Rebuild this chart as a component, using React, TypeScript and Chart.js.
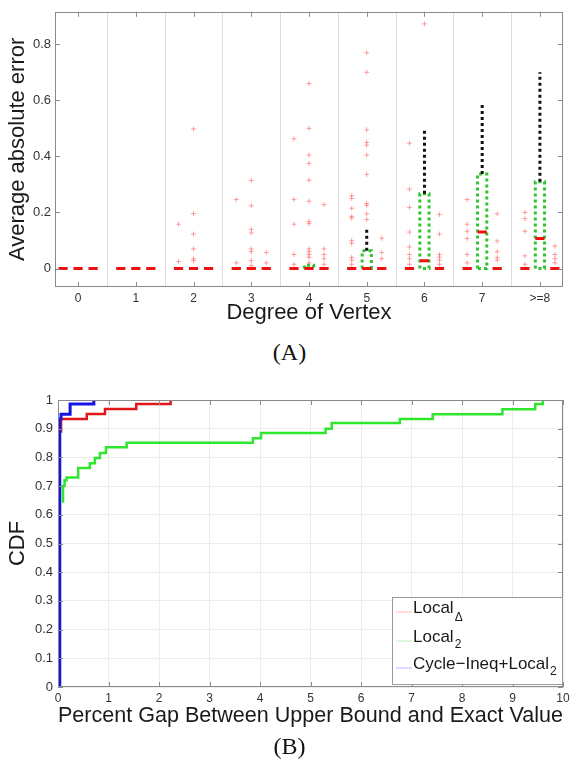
import React, { useEffect, useRef } from 'react';
import { Chart, registerables } from 'chart.js';
Chart.register(...registerables);

// ---------- Chart (A) data ----------
const categories = ['0', '1', '2', '3', '4', '5', '6', '7', '>=8'];
const subOffsets = [-0.26, 0, 0.26];
const midBoxQ3 = [0, 0, 0, 0, 0.012, 0.063, 0.267, 0.337, 0.31];
const midMedian = [0, 0, 0, 0, 0, 0, 0.028, 0.13, 0.107];
const midWhiskerTop = [0, 0, 0, 0, 0.012, 0.144, 0.495, 0.59, 0.7];
const leftOutliers: number[][] = [
  [], [], [0.158, 0.025], [0.246, 0.02], [0.463, 0.246, 0.158, 0.05, 0.015],
  [0.26, 0.25, 0.215, 0.186, 0.18, 0.1, 0.09, 0.04, 0.03, 0.015],
  [0.447, 0.283, 0.218, 0.13, 0.077, 0.05, 0.035, 0.015],
  [0.246, 0.158, 0.133, 0.107, 0.05, 0.02],
  [0.2, 0.178, 0.133, 0.045, 0.015],
];
const midOutliers: number[][] = [
  [], [], [0.498, 0.196, 0.123, 0.07, 0.035, 0.028],
  [0.314, 0.224, 0.14, 0.127, 0.07, 0.06, 0.028, 0.01],
  [0.66, 0.5, 0.405, 0.375, 0.315, 0.24, 0.168, 0.16, 0.07, 0.06, 0.05, 0.04, 0.02],
  [0.77, 0.7, 0.495, 0.45, 0.44, 0.405, 0.336, 0.232, 0.225, 0.195, 0.175],
  [0.873], [], [],
];
const rightOutliers: number[][] = [
  [], [], [], [0.057, 0.02], [0.228, 0.07, 0.05, 0.035, 0.015],
  [0.108, 0.057, 0.035],
  [0.193, 0.123, 0.05, 0.04, 0.03, 0.015],
  [0.195, 0.098, 0.06, 0.04, 0.03],
  [0.08, 0.05, 0.035, 0.02],
];
const aYTicks = [0, 0.2, 0.4, 0.6, 0.8];

// ---------- Chart (B) data ----------
const deltaGap = [0.05, 0.06, 0.57, 0.93, 1.55, 2.23];
const deltaCdf = [0.89, 0.934, 0.951, 0.969, 0.986, 1.0];
const local2Gap = [0.08, 0.1, 0.13, 0.17, 0.4, 0.63, 0.73, 0.83, 0.95, 1.36, 3.86, 4.02, 5.3, 5.42, 6.77, 7.42, 8.8, 9.45, 9.6];
const local2Cdf = [0.646, 0.7, 0.72, 0.73, 0.763, 0.78, 0.798, 0.815, 0.835, 0.851, 0.867, 0.885, 0.9, 0.92, 0.934, 0.95, 0.968, 0.986, 1.0];
const cycleGap = [0.035, 0.035, 0.06, 0.24, 0.71];
const cycleCdf = [0, 0.934, 0.95, 0.986, 1.0];
const legendLabels = [
  { text: 'Local', sub: 'Δ', color: 'rgba(255,60,60,0.35)' },
  { text: 'Local', sub: '2', color: 'rgba(40,220,40,0.35)' },
  { text: 'Cycle−Ineq+Local', sub: '2', color: 'rgba(60,60,255,0.35)' },
];

const FONT = '"Liberation Sans", Arial, sans-serif';
const HALF = 0.08;

const framePlugin = {
  id: 'frame',
  afterDraw(chart: any) {
    const { ctx, chartArea: a, scales } = chart;
    ctx.save();
    ctx.strokeStyle = '#8a8a8a';
    ctx.lineWidth = 1;
    ctx.strokeRect(Math.round(a.left) + 0.5, Math.round(a.top) + 0.5, Math.round(a.width) - 1, Math.round(a.height) - 1);
    const len = 5;
    ctx.beginPath();
    scales.x.ticks.forEach((t: any) => {
      const px = Math.round(scales.x.getPixelForValue(t.value)) + 0.5;
      ctx.moveTo(px, a.bottom); ctx.lineTo(px, a.bottom - len);
      ctx.moveTo(px, a.top); ctx.lineTo(px, a.top + len);
    });
    scales.y.ticks.forEach((t: any) => {
      const py = Math.round(scales.y.getPixelForValue(t.value)) + 0.5;
      ctx.moveTo(a.left, py); ctx.lineTo(a.left + len, py);
      ctx.moveTo(a.right, py); ctx.lineTo(a.right - len, py);
    });
    ctx.stroke();
    ctx.restore();
  },
};

const separatorPlugin = {
  id: 'separators',
  beforeDatasetsDraw(chart: any) {
    const { ctx, chartArea: a, scales } = chart;
    ctx.save();
    ctx.strokeStyle = '#dedede';
    ctx.lineWidth = 1;
    ctx.beginPath();
    for (let i = 0; i < categories.length - 1; i++) {
      const px = Math.round(scales.x.getPixelForValue(i + 0.5)) + 0.5;
      ctx.moveTo(px, a.top); ctx.lineTo(px, a.bottom);
    }
    ctx.stroke();
    ctx.restore();
  },
};

const legendPlugin = {
  id: 'subLegend',
  afterDraw(chart: any) {
    const { ctx, chartArea: a } = chart;
    const w = 170, h = 87;
    const left = a.right - w - 1, top = a.bottom - h - 3;
    ctx.save();
    ctx.fillStyle = '#fff';
    ctx.fillRect(left, top, w, h);
    ctx.strokeStyle = '#9a9a9a';
    ctx.lineWidth = 1;
    ctx.strokeRect(Math.round(left) + 0.5, Math.round(top) + 0.5, w, h);
    const baselines = [16, 45, 72];
    legendLabels.forEach((it, i) => {
      const by = top + baselines[i];
      ctx.strokeStyle = it.color;
      ctx.lineWidth = 1;
      ctx.beginPath();
      ctx.moveTo(left + 4, by - 1);
      ctx.lineTo(left + 20, by - 1);
      ctx.stroke();
      ctx.fillStyle = '#1a1a1a';
      ctx.textBaseline = 'alphabetic';
      ctx.font = `17px ${FONT}`;
      ctx.fillText(it.text, left + 21, by);
      const tw = ctx.measureText(it.text).width;
      ctx.font = `12px ${FONT}`;
      ctx.fillText(it.sub, left + 21 + tw + 1, by + (it.sub === 'Δ' ? 8 : 6));
    });
    ctx.restore();
  },
};

function buildADatasets() {
  const medians: any[] = [];
  const boxes: any[] = [];
  const whiskers: any[] = [];
  const outliers: any[] = [];
  categories.forEach((_, i) => {
    subOffsets.forEach((off, s) => {
      const cx = i + off;
      const med = s === 1 ? midMedian[i] : 0;
      medians.push({ x: cx - HALF, y: med }, { x: cx + HALF, y: med }, { x: cx, y: null });
      const list = s === 0 ? leftOutliers[i] : s === 1 ? midOutliers[i] : rightOutliers[i];
      list.forEach((v) => outliers.push({ x: cx, y: v }));
    });
    const q3 = midBoxQ3[i];
    if (q3 > 0) {
      boxes.push(
        { x: i - HALF, y: 0 }, { x: i - HALF, y: q3 }, { x: i + HALF, y: q3 },
        { x: i + HALF, y: 0 }, { x: i - HALF, y: 0 }, { x: i, y: null },
      );
    }
    if (midWhiskerTop[i] > q3) {
      whiskers.push({ x: i, y: q3 }, { x: i, y: midWhiskerTop[i] }, { x: i, y: null });
    }
  });
  return [
    { data: medians, borderColor: '#ee1111', borderWidth: 3, pointRadius: 0, spanGaps: false, order: 0, borderCapStyle: 'butt' },
    { data: whiskers, borderColor: '#111111', borderWidth: 3, borderDash: [3, 3], pointRadius: 0, spanGaps: false, order: 1 },
    { data: boxes, borderColor: '#2fc42f', borderWidth: 3, borderDash: [3, 3], pointRadius: 0, spanGaps: false, order: 2 },
    { data: outliers, showLine: false, pointStyle: 'cross', pointRadius: 2.5, pointBorderWidth: 1, pointBorderColor: 'rgba(255,90,90,0.55)', pointBackgroundColor: 'rgba(255,90,90,0.55)', order: 3 },
  ];
}

export default function App() {
  const refA = useRef<HTMLCanvasElement>(null);
  const refB = useRef<HTMLCanvasElement>(null);

  useEffect(() => {
    const chartA = new Chart(refA.current as HTMLCanvasElement, {
      type: 'line',
      data: { datasets: buildADatasets() as any },
      options: {
        responsive: false,
        animation: false,
        events: [],
        layout: { padding: { top: 7, right: 16, left: 0, bottom: 0 } },
        plugins: { legend: { display: false }, tooltip: { enabled: false } },
        scales: {
          x: {
            type: 'linear',
            min: -0.4,
            max: 8.4,
            grid: { display: false, drawTicks: false },
            border: { display: false },
            afterBuildTicks: (s: any) => { s.ticks = categories.map((_, i) => ({ value: i })); },
            afterFit: (s: any) => { s.height = 43; },
            ticks: {
              padding: 4,
              color: '#333',
              font: { family: FONT, size: 12 },
              maxRotation: 0,
              autoSkip: false,
              callback: (v: any) => categories[Math.round(Number(v))],
            },
            title: { display: true, text: 'Degree of Vertex', color: '#1a1a1a', font: { family: FONT, size: 22 }, padding: { top: 0, bottom: 4 } },
          },
          y: {
            type: 'linear',
            min: -0.066,
            max: 0.916,
            grid: { display: false, drawTicks: false },
            border: { display: false },
            afterBuildTicks: (s: any) => { s.ticks = aYTicks.map((v) => ({ value: v })); },
            afterFit: (s: any) => { s.width = 55; },
            ticks: {
              padding: 4,
              color: '#333',
              font: { family: FONT, size: 13 },
              callback: (v: any) => String(Math.round(Number(v) * 10) / 10),
            },
            title: { display: true, text: 'Average absolute error', color: '#1a1a1a', font: { family: FONT, size: 22 }, padding: { top: 5, bottom: 0 } },
          },
        },
      },
      plugins: [separatorPlugin, framePlugin],
    } as any);

    const mk = (xs: number[], ys: number[]) => xs.map((x, i) => ({ x, y: ys[i] }));
    const chartB = new Chart(refB.current as HTMLCanvasElement, {
      type: 'line',
      data: {
        datasets: [
          { label: 'Cycle-Ineq+Local2', data: mk(cycleGap, cycleCdf), borderColor: '#1414e6', borderWidth: 3, stepped: 'before', pointRadius: 0, order: 0 },
          { label: 'LocalΔ', data: mk(deltaGap, deltaCdf), borderColor: '#e01818', borderWidth: 2.5, stepped: 'before', pointRadius: 0, order: 1 },
          { label: 'Local2', data: mk(local2Gap, local2Cdf), borderColor: '#2ee62e', borderWidth: 2.5, stepped: 'before', pointRadius: 0, order: 2 },
        ],
      },
      options: {
        responsive: false,
        animation: false,
        events: [],
        layout: { padding: { top: 25, right: 16, left: 0, bottom: 0 } },
        plugins: { legend: { display: false }, tooltip: { enabled: false } },
        scales: {
          x: {
            type: 'linear',
            min: 0,
            max: 10,
            grid: { color: '#ededed', drawTicks: false },
            border: { display: false },
            afterFit: (s: any) => { s.height = 46; },
            ticks: { stepSize: 1, padding: 4, color: '#333', font: { family: FONT, size: 12 }, maxRotation: 0 },
            title: { display: true, text: 'Percent Gap Between Upper Bound and Exact Value', color: '#1a1a1a', font: { family: FONT, size: 22 }, padding: { top: 0, bottom: 4 } },
          },
          y: {
            type: 'linear',
            min: 0,
            max: 1,
            grid: { color: '#ededed', drawTicks: false },
            border: { display: false },
            afterFit: (s: any) => { s.width = 58; },
            ticks: {
              stepSize: 0.1,
              padding: 5,
              color: '#333',
              font: { family: FONT, size: 13 },
              callback: (v: any) => String(Math.round(Number(v) * 10) / 10),
            },
            title: { display: true, text: 'CDF', color: '#1a1a1a', font: { family: FONT, size: 22 }, padding: { top: 5, bottom: 0 } },
          },
        },
      },
      plugins: [framePlugin, legendPlugin],
    } as any);

    return () => {
      chartA.destroy();
      chartB.destroy();
    };
  }, []);

  const caption: React.CSSProperties = {
    position: 'absolute', left: 0, width: 579, textAlign: 'center',
    fontFamily: '"Liberation Serif", "DejaVu Serif", serif', fontSize: 24, color: '#111', lineHeight: '28px',
  };

  return (
    <div style={{ position: 'absolute', left: 0, top: 0, width: 579, height: 763, background: '#fff', overflow: 'hidden' }}>
      <canvas ref={refA} width={579} height={330} style={{ position: 'absolute', left: 0, top: 0 }} />
      <div style={{ ...caption, top: 338 }}>(A)</div>
      <canvas ref={refB} width={579} height={358} style={{ position: 'absolute', left: 0, top: 375 }} />
      <div style={{ ...caption, top: 732 }}>(B)</div>
    </div>
  );
}
